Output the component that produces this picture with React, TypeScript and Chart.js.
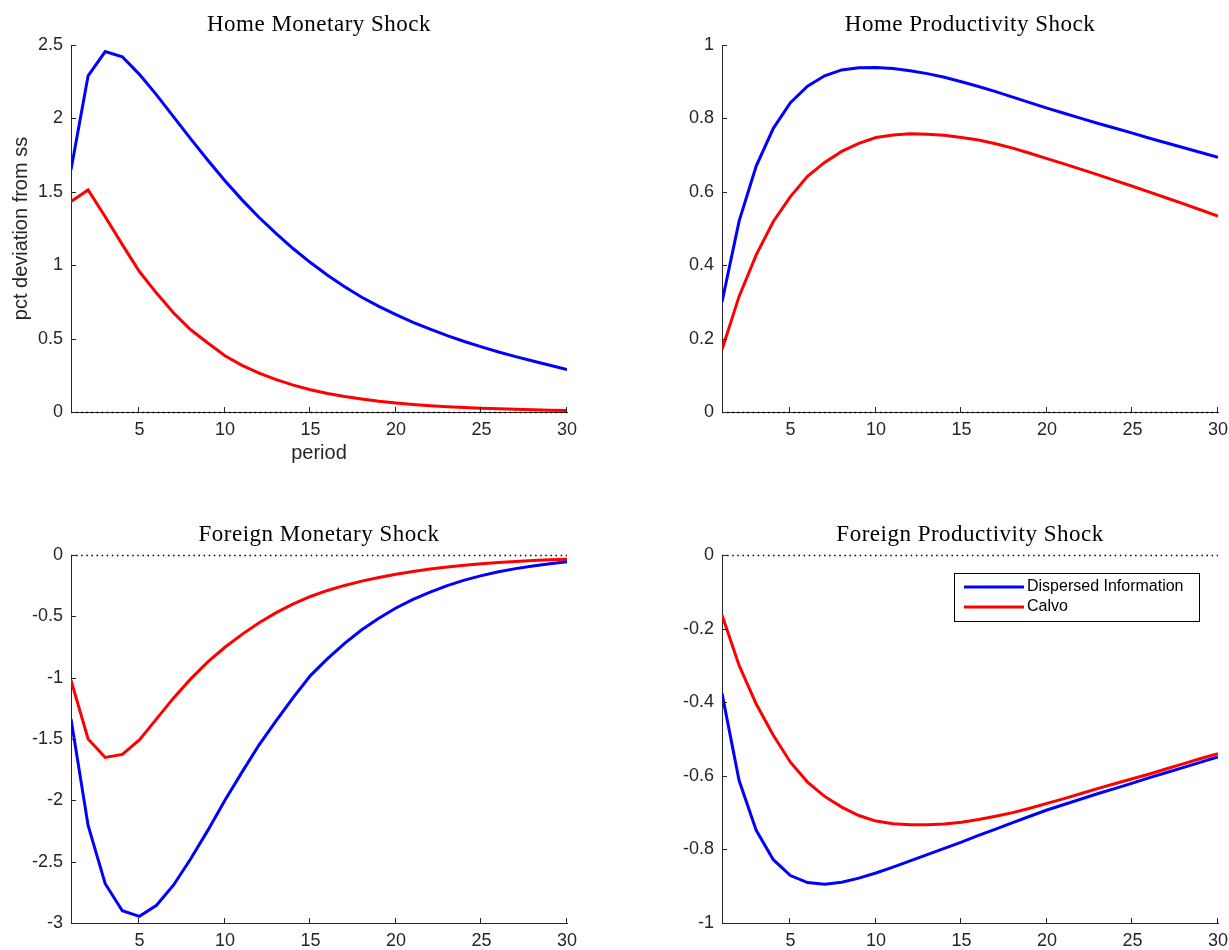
import React, { useEffect, useRef } from 'react';
import { Chart, registerables } from 'chart.js';

Chart.register(...registerables);

const periods = [1, 2, 3, 4, 5, 6, 7, 8, 9, 10, 11, 12, 13, 14, 15, 16, 17, 18, 19, 20, 21, 22, 23, 24, 25, 26, 27, 28, 29, 30];
const xTicks = [5, 10, 15, 20, 25, 30];

const seriesLabels = ['Dispersed Information', 'Calvo'];

const homeMonDisp = [1.65, 2.29, 2.455, 2.42, 2.3, 2.16, 2.01, 1.86, 1.715, 1.575, 1.445, 1.325, 1.215, 1.112, 1.018, 0.932, 0.853, 0.782, 0.72, 0.663, 0.611, 0.564, 0.52, 0.48, 0.444, 0.409, 0.377, 0.347, 0.318, 0.29];
const homeMonCalvo = [1.434, 1.513, 1.33, 1.14, 0.957, 0.81, 0.674, 0.56, 0.47, 0.383, 0.318, 0.265, 0.22, 0.183, 0.152, 0.126, 0.105, 0.088, 0.073, 0.061, 0.051, 0.043, 0.036, 0.031, 0.026, 0.022, 0.018, 0.015, 0.012, 0.01];

const homeProdDisp = [0.3, 0.52, 0.67, 0.773, 0.843, 0.888, 0.916, 0.932, 0.938, 0.939, 0.936, 0.93, 0.922, 0.912, 0.9, 0.887, 0.873, 0.858, 0.843, 0.828, 0.814, 0.8, 0.786, 0.773, 0.76, 0.746, 0.733, 0.72, 0.707, 0.694];
const homeProdCalvo = [0.17, 0.315, 0.428, 0.519, 0.587, 0.642, 0.68, 0.71, 0.732, 0.748, 0.755, 0.758, 0.757, 0.754, 0.748, 0.741, 0.731, 0.719, 0.705, 0.6905, 0.676, 0.661, 0.646, 0.6305, 0.615, 0.599, 0.583, 0.567, 0.5505, 0.534];

const forMonDisp = [-1.336, -2.205, -2.68, -2.9, -2.946, -2.856, -2.69, -2.476, -2.245, -2.0, -1.77, -1.547, -1.35, -1.16, -0.983, -0.845, -0.72, -0.61, -0.515, -0.432, -0.362, -0.302, -0.25, -0.205, -0.168, -0.137, -0.111, -0.09, -0.072, -0.055];
const forMonCalvo = [-1.02, -1.5, -1.65, -1.626, -1.507, -1.336, -1.165, -1.01, -0.872, -0.752, -0.647, -0.553, -0.47, -0.398, -0.338, -0.289, -0.248, -0.213, -0.183, -0.157, -0.134, -0.114, -0.097, -0.083, -0.071, -0.061, -0.052, -0.045, -0.039, -0.034];

const forProdDisp = [-0.376, -0.613, -0.748, -0.828, -0.871, -0.89, -0.895, -0.889, -0.878, -0.864, -0.848, -0.831, -0.814, -0.797, -0.78, -0.762, -0.745, -0.727, -0.71, -0.693, -0.678, -0.663, -0.648, -0.634, -0.62, -0.605, -0.591, -0.577, -0.563, -0.549];
const forProdCalvo = [-0.163, -0.3, -0.405, -0.49, -0.563, -0.617, -0.656, -0.685, -0.708, -0.723, -0.73, -0.733, -0.733, -0.731, -0.726, -0.719, -0.71, -0.7, -0.688, -0.675, -0.662, -0.648, -0.634, -0.621, -0.608, -0.595, -0.581, -0.567, -0.553, -0.54];

const yTicksHomeMon = [0, 0.5, 1, 1.5, 2, 2.5];
const yTicksHomeProd = [0, 0.2, 0.4, 0.6, 0.8, 1];
const yTicksForMon = [-3, -2.5, -2, -1.5, -1, -0.5, 0];
const yTicksForProd = [-1, -0.8, -0.6, -0.4, -0.2, 0];

const titles = ['Home Monetary Shock', 'Home Productivity Shock', 'Foreign Monetary Shock', 'Foreign Productivity Shock'];
const yAxisLabel = 'pct deviation from ss';
const xAxisLabel = 'period';

const SANS = '"Liberation Sans", Arial, Helvetica, sans-serif';
const SERIF = '"Liberation Serif", "Times New Roman", serif';
const AXIS_COLOR = '#262626';
const COLORS = ['#0000ff', '#ff0000'];

type PanelDef = {
  title: string;
  disp: number[];
  calvo: number[];
  yTicks: number[];
  left: number;
  top: number;
  w: number;
  h: number;
  area: { left: number; right: number; top: number; bottom: number };
  titleY: number;
  yLabel: boolean;
  xLabel: boolean;
  legend: boolean;
};

const panels: PanelDef[] = [
  { title: titles[0], disp: homeMonDisp, calvo: homeMonCalvo, yTicks: yTicksHomeMon, left: 0, top: 0, w: 614, h: 475, area: { left: 71, right: 567, top: 45, bottom: 412 }, titleY: 25, yLabel: true, xLabel: true, legend: false },
  { title: titles[1], disp: homeProdDisp, calvo: homeProdCalvo, yTicks: yTicksHomeProd, left: 614, top: 0, w: 615, h: 475, area: { left: 108, right: 604, top: 45, bottom: 412 }, titleY: 25, yLabel: false, xLabel: false, legend: false },
  { title: titles[2], disp: forMonDisp, calvo: forMonCalvo, yTicks: yTicksForMon, left: 0, top: 475, w: 614, h: 475, area: { left: 71, right: 567, top: 80, bottom: 448 }, titleY: 60, yLabel: false, xLabel: false, legend: false },
  { title: titles[3], disp: forProdDisp, calvo: forProdCalvo, yTicks: yTicksForProd, left: 614, top: 475, w: 615, h: 475, area: { left: 108, right: 604, top: 80, bottom: 448 }, titleY: 60, yLabel: false, xLabel: false, legend: true },
];

function Panel({ p }: { p: PanelDef }) {
  const ref = useRef<HTMLCanvasElement | null>(null);
  useEffect(() => {
    const canvas = ref.current;
    if (!canvas) return;
    const decor = {
      id: 'decor' + p.title.replace(/\s/g, ''),
      beforeDatasetsDraw(chart: any) {
        const ctx = chart.ctx;
        const x = chart.scales.x;
        const y = chart.scales.y;
        const y0 = Math.round(y.getPixelForValue(0)) + 0.5;
        ctx.save();
        ctx.strokeStyle = '#000';
        ctx.lineWidth = 1.5;
        ctx.setLineDash([1.5, 3.6]);
        ctx.beginPath();
        ctx.moveTo(x.getPixelForValue(1), y0);
        ctx.lineTo(x.getPixelForValue(30), y0);
        ctx.stroke();
        ctx.restore();
      },
      afterDraw(chart: any) {
        const ctx = chart.ctx;
        const x = chart.scales.x;
        const y = chart.scales.y;
        const a = chart.chartArea;
        ctx.save();
        // inward tick marks
        ctx.strokeStyle = AXIS_COLOR;
        ctx.lineWidth = 1;
        ctx.beginPath();
        xTicks.forEach((t) => {
          const px = Math.round(x.getPixelForValue(t)) - 0.5;
          ctx.moveTo(px, a.bottom);
          ctx.lineTo(px, a.bottom - 5);
        });
        p.yTicks.forEach((t) => {
          const py = Math.round(y.getPixelForValue(t)) + 0.5;
          ctx.moveTo(a.left, py);
          ctx.lineTo(a.left + 5, py);
        });
        ctx.stroke();
        // title
        ctx.fillStyle = '#000';
        ctx.font = '23px ' + SERIF;
        try { (ctx as any).letterSpacing = '0.5px'; } catch (e) {}
        ctx.textAlign = 'center';
        ctx.textBaseline = 'middle';
        ctx.fillText(p.title, (a.left + a.right) / 2, p.titleY);
        try { (ctx as any).letterSpacing = '0px'; } catch (e) {}
        // axis labels
        ctx.fillStyle = AXIS_COLOR;
        ctx.font = '20px ' + SANS;
        if (p.xLabel) {
          ctx.fillText(xAxisLabel, (a.left + a.right) / 2, 453);
        }
        if (p.yLabel) {
          ctx.save();
          ctx.translate(21, (a.top + a.bottom) / 2);
          ctx.rotate(-Math.PI / 2);
          ctx.fillText(yAxisLabel, 0, 0);
          ctx.restore();
        }
        // legend
        if (p.legend) {
          const bx = 340.5, by = 98.5, bw = 245, bh = 48;
          ctx.fillStyle = '#fff';
          ctx.fillRect(bx, by, bw, bh);
          ctx.strokeStyle = '#000';
          ctx.lineWidth = 1;
          ctx.strokeRect(bx, by, bw, bh);
          ctx.font = '16px ' + SANS;
          ctx.textAlign = 'left';
          ctx.textBaseline = 'middle';
          chart.data.datasets.forEach((ds: any, i: number) => {
            const ly = 112 + i * 20;
            ctx.strokeStyle = ds.borderColor;
            ctx.lineWidth = 3;
            ctx.beginPath();
            ctx.moveTo(350, ly);
            ctx.lineTo(410, ly);
            ctx.stroke();
            ctx.fillStyle = '#000';
            ctx.fillText(ds.label, 413, ly);
          });
        }
        ctx.restore();
      },
    };
    const yMin = p.yTicks[0];
    const yMax = p.yTicks[p.yTicks.length - 1];
    const chart = new Chart(canvas, {
      type: 'line',
      data: {
        datasets: [
          { label: seriesLabels[0], data: periods.map((v, i) => ({ x: v, y: p.disp[i] })), borderColor: COLORS[0], backgroundColor: COLORS[0], borderWidth: 3, pointRadius: 0, tension: 0, fill: false },
          { label: seriesLabels[1], data: periods.map((v, i) => ({ x: v, y: p.calvo[i] })), borderColor: COLORS[1], backgroundColor: COLORS[1], borderWidth: 3, pointRadius: 0, tension: 0, fill: false },
        ],
      },
      options: {
        responsive: false,
        animation: false,
        devicePixelRatio: 1,
        layout: { padding: { left: 0, top: p.area.top, right: p.w - p.area.right, bottom: 0 } },
        plugins: { legend: { display: false }, tooltip: { enabled: false }, title: { display: false } },
        scales: {
          x: {
            type: 'linear',
            min: 1,
            max: 30,
            afterBuildTicks: (s: any) => { s.ticks = xTicks.map((v) => ({ value: v })); },
            afterFit: (s: any) => { s.height = p.h - p.area.bottom; s.paddingLeft = 0; s.paddingRight = 0; },
            grid: { display: false, drawTicks: false },
            border: { display: true, color: AXIS_COLOR, width: 1 },
            ticks: { padding: 7, autoSkip: false, maxRotation: 0, color: AXIS_COLOR, font: { family: SANS, size: 18 }, callback: (v: any) => String(v) },
          },
          y: {
            type: 'linear',
            min: yMin,
            max: yMax,
            afterBuildTicks: (s: any) => { s.ticks = p.yTicks.map((v) => ({ value: v })); },
            afterFit: (s: any) => { s.width = p.area.left; s.paddingTop = 0; s.paddingBottom = 0; },
            grid: { display: false, drawTicks: false },
            border: { display: true, color: AXIS_COLOR, width: 1 },
            ticks: { padding: 8, autoSkip: false, color: AXIS_COLOR, font: { family: SANS, size: 18 }, callback: (v: any) => String(v) },
          },
        },
      } as any,
      plugins: [decor],
    });
    return () => chart.destroy();
  }, [p]);
  return (
    <canvas
      ref={ref}
      width={p.w}
      height={p.h}
      style={{ position: 'absolute', left: p.left, top: p.top, width: p.w, height: p.h }}
    />
  );
}

export default function App() {
  return (
    <div style={{ position: 'absolute', left: 0, top: 0, width: 1229, height: 950, background: '#fff', overflow: 'hidden' }}>
      {panels.map((p) => (
        <Panel key={p.title} p={p} />
      ))}
    </div>
  );
}
